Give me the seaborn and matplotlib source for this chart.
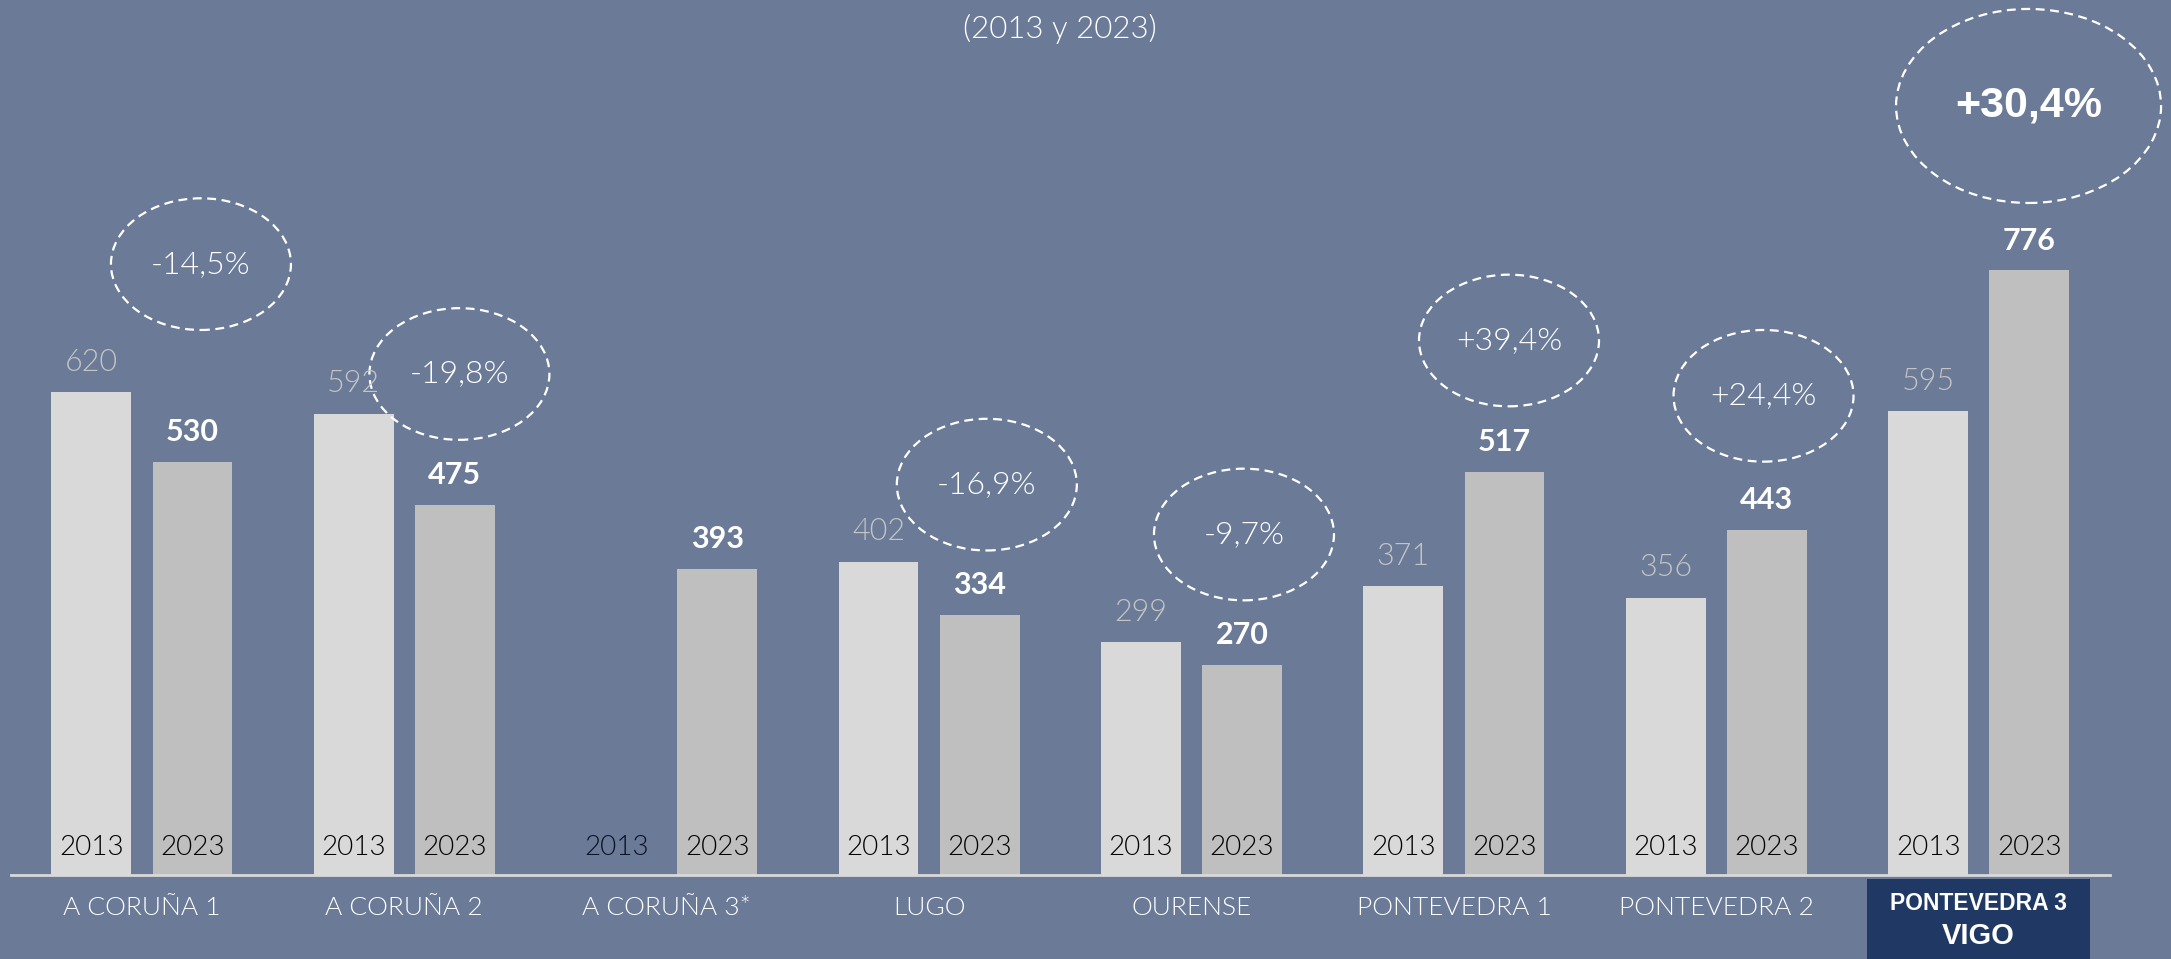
import matplotlib
matplotlib.use("Agg")
import matplotlib.pyplot as plt
from matplotlib.patches import Ellipse, Rectangle
from matplotlib.transforms import blended_transform_factory
import seaborn as sns
import pandas as pd
import numpy as np

# ---------------- data ----------------
categories = ["A CORUÑA 1", "A CORUÑA 2", "A CORUÑA 3*", "LUGO", "OURENSE",
              "PONTEVEDRA 1", "PONTEVEDRA 2", "PONTEVEDRA 3\nVIGO"]
years = ["2013", "2023"]
values_2013 = [620, 592, np.nan, 402, 299, 371, 356, 595]
values_2023 = [530, 475, 393, 334, 270, 517, 443, 776]
changes = ["-14,5%", "-19,8%", None, "-16,9%", "-9,7%", "+39,4%", "+24,4%", "+30,4%"]
subtitle = "(2013 y 2023)"

# ---------------- layout (annotation placement) ----------------
bubble_dx = [0.225, 0.21, 0, 0.22, 0.20, 0.21, 0.18, 0.19]
bubble_y = [784, 643, 0, 501, 437, 686, 615, 987]

BG = "#6A7A97"
C2013 = "#D9D9D9"
C2023 = "#BFBFBF"
NAVY = "#1F3864"
LIGHT = 300

df = pd.DataFrame({
    "cat": categories * 2,
    "year": [years[0]] * len(categories) + [years[1]] * len(categories),
    "value": values_2013 + values_2023,
})

sns.set_theme(style="white")
plt.rcParams["font.family"] = ["Lato", "DejaVu Sans"]

W, H = 2171, 959
fig = plt.figure(figsize=(W / 100, H / 100), dpi=100, facecolor=BG)
ax = fig.add_axes([10.7 / W, 84 / H, 2099.2 / W, 875 / H])
ax.set_facecolor(BG)

bar_width = 0.77
sns.barplot(data=df, x="cat", y="value", hue="year", order=categories,
            hue_order=years, palette=[C2013, C2023], width=bar_width, gap=0.21,
            dodge=True, legend=False, ax=ax, saturation=1, edgecolor="none")

ax.set_xlim(-0.5, len(categories) - 0.5)
ax.set_ylim(0, 1123)
ax.set_xticks([])
ax.set_yticks([])
ax.set_xlabel("")
ax.set_ylabel("")
for s in ["top", "left", "right"]:
    ax.spines[s].set_visible(False)
ax.spines["bottom"].set_color("#D9D9D9")
ax.spines["bottom"].set_linewidth(2)

slot = bar_width / len(years)
offsets = [-bar_width / 2 + slot / 2 + k * slot for k in range(len(years))]

for i, cat in enumerate(categories):
    for k, (yr, vals) in enumerate(zip(years, [values_2013, values_2023])):
        x = i + offsets[k]
        v = vals[i]
        has_bar = not (isinstance(v, float) and np.isnan(v))
        # year label inside bar
        ax.annotate(yr, (x, 0), xytext=(0, 20), textcoords="offset points",
                    ha="center", va="center", fontsize=20, fontweight=LIGHT,
                    color="black" if has_bar else "#0A1228")
        if has_bar:
            if k == 0:
                ax.annotate(f"{int(v)}", (x, v), xytext=(0, 21.5),
                            textcoords="offset points", ha="center", va="center",
                            fontsize=22, fontweight=LIGHT, color="#C4C4C4")
            else:
                ax.annotate(f"{int(v)}", (x, v), xytext=(0, 21.5),
                            textcoords="offset points", ha="center", va="center",
                            fontsize=22, fontweight="bold", color="white")

# change bubbles
for i, ch in enumerate(changes):
    if ch is None:
        continue
    big = i == len(categories) - 1
    cx = i + bubble_dx[i]
    cy = bubble_y[i]
    w = 1.01 if big else 0.686
    h = 249 if big else 169
    ax.add_patch(Ellipse((cx, cy), w, h, fill=False, edgecolor="white",
                         linestyle=(0, (4, 2.5)), linewidth=1.6, clip_on=False))
    if big:
        ax.text(cx, cy, ch, ha="center", va="center", fontsize=31,
                fontweight="bold", color="white", family="Liberation Sans")
    else:
        ax.text(cx, cy, ch, ha="center", va="center", fontsize=23,
                fontweight=LIGHT, color="white")

# category labels
tr = blended_transform_factory(ax.transData, fig.transFigure)
for i, cat in enumerate(categories):
    if "\n" in cat:
        top, bottom = cat.split("\n")
        ax.add_patch(Rectangle((i - 0.425, -0.01), 0.85, (H - 879) / H + 0.01,
                               transform=tr, facecolor=NAVY, edgecolor="none",
                               clip_on=False, zorder=0))
        ax.text(i, (H - 904) / H, top, transform=tr, ha="center", va="center",
                fontsize=16.5, fontweight="bold", color="white",
                family="Liberation Sans")
        ax.text(i, (H - 936) / H, bottom, transform=tr, ha="center", va="center",
                fontsize=21, fontweight="bold", color="white",
                family="Liberation Sans")
    else:
        ax.text(i, (H - 908) / H, cat, transform=tr, ha="center", va="center",
                fontsize=19, fontweight=LIGHT, color="white")

fig.text(1060 / W, (H - 29) / H, subtitle, ha="center", va="center",
         fontsize=22.5, fontweight=LIGHT, color="white")

fig.savefig("out.png", dpi=100, facecolor=BG)
